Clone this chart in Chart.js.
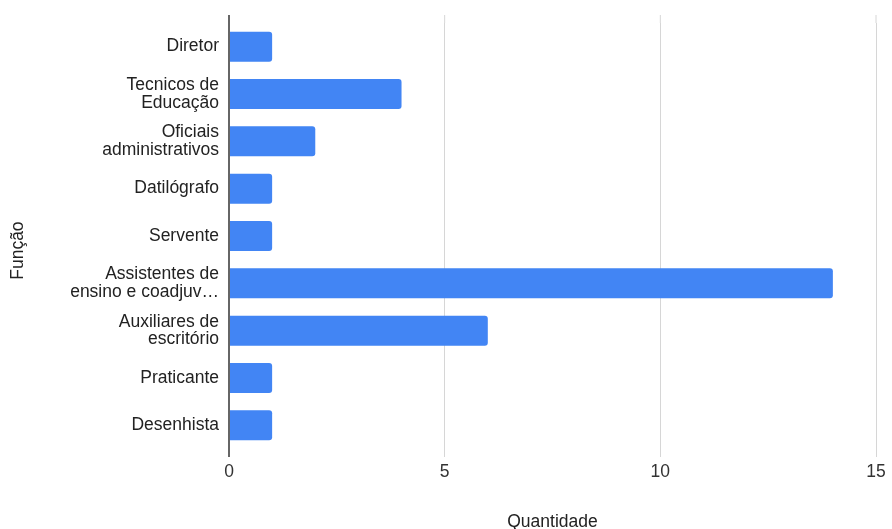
<!DOCTYPE html>
<html>
<head>
<meta charset="utf-8">
<script src="https://cdn.jsdelivr.net/npm/chart.js@4"></script>
<style>
  html, body { margin:0; padding:0; background:#fff; }
  #wrap { width:892px; height:529px; }
</style>
</head>
<body>
<div id="wrap"><canvas id="chart" width="892" height="529"></canvas></div>
<script>
/* dados */
const funcoes = [
  'Diretor',
  ['Tecnicos de', 'Educação'],
  ['Oficiais', 'administrativos'],
  'Datilógrafo',
  'Servente',
  ['Assistentes de', 'ensino e coadjuv…'],
  ['Auxiliares de', 'escritório'],
  'Praticante',
  'Desenhista'
];
const quantidade = [1, 4, 2, 1, 1, 14, 6, 1, 1];
const xTicks = [0, 5, 10, 15];

const FONT = "'Liberation Sans', Arial, sans-serif";

/* prolonga as linhas verticais um pouco acima da área */
const topExtend = {
  id: 'topExtend',
  beforeDatasetsDraw(chart) {
    const { ctx, chartArea, scales } = chart;
    ctx.save();
    xTicks.forEach(v => {
      const x = scales.x.getPixelForValue(v);
      ctx.beginPath();
      ctx.strokeStyle = v === 0 ? '#666' : '#d6d6d6';
      ctx.lineWidth = v === 0 ? 2 : 1;
      ctx.moveTo(x, chartArea.top - 8);
      ctx.lineTo(x, chartArea.top);
      ctx.stroke();
    });
    ctx.restore();
  }
};

new Chart(document.getElementById('chart'), {
  type: 'bar',
  data: {
    labels: funcoes,
    datasets: [{
      data: quantidade,
      backgroundColor: '#4285f4',
      borderRadius: 3,
      borderSkipped: 'start',
      barPercentage: 0.635,
      categoryPercentage: 1
    }]
  },
  options: {
    indexAxis: 'y',
    responsive: false,
    animation: false,
    layout: { padding: { top: 23, right: 16, bottom: 0, left: 0 } },
    plugins: { legend: { display: false }, tooltip: { enabled: false } },
    scales: {
      x: {
        min: 0, max: 15,
        afterBuildTicks: s => { s.ticks = xTicks.map(v => ({ value: v })); },
        grid: {
          color: c => c.tick && c.tick.value === 0 ? '#666' : '#d6d6d6',
          lineWidth: c => c.tick && c.tick.value === 0 ? 2 : 1,
          tickLength: 8,
          drawTicks: true
        },
        border: { display: false },
        ticks: { color: '#333', font: { family: FONT, size: 17.5 }, padding: 5 },
        title: {
          display: true, text: 'Quantidade', color: '#222',
          font: { family: FONT, size: 17.5 }, padding: { top: 0, bottom: -4 }
        },
        afterFit: s => { s.height = 80; }
      },
      y: {
        grid: { display: false },
        border: { display: true, color: '#666', width: 2 },
        ticks: {
          color: '#222', padding: 2,
          font: { family: FONT, size: 17.5, lineHeight: 1.02 }
        },
        title: {
          display: true, text: 'Função      ', color: '#222',
          font: { family: FONT, size: 17.5 }, padding: { top: 8, bottom: 0 }
        },
        afterFit: s => { s.width = 229; }
      }
    }
  },
  plugins: [topExtend]
});
</script>
</body>
</html>
